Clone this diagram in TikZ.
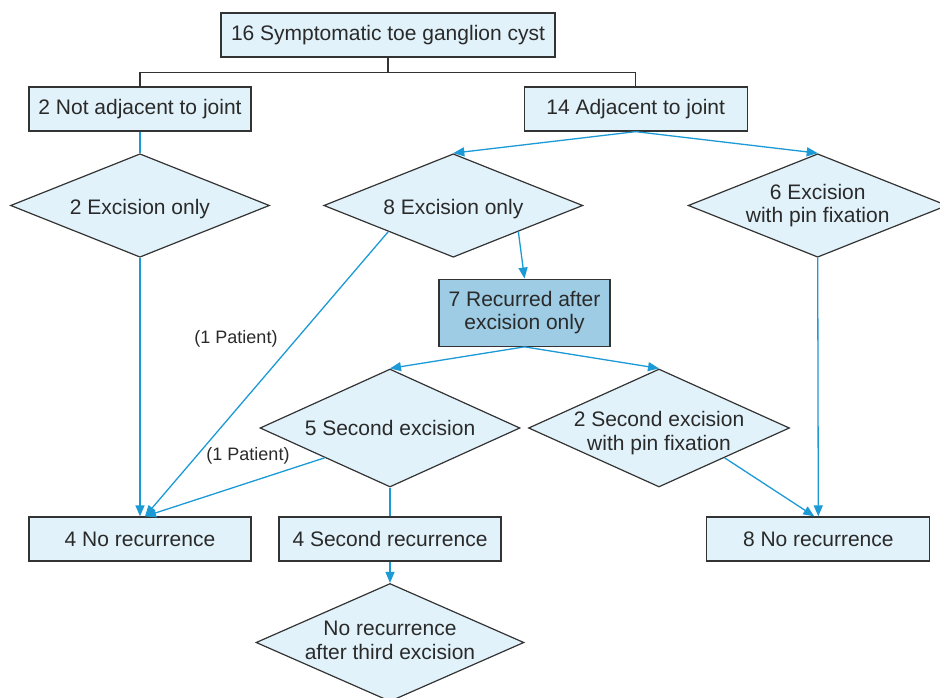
\documentclass[tikz,border=0pt]{standalone}
\usepackage{fontspec}
\setmainfont{Liberation Sans}
\usetikzlibrary{shapes.geometric,arrows.meta,calc}
\definecolor{boxfill}{HTML}{E1F2FA}
\definecolor{darkfill}{HTML}{9DCCE4}
\definecolor{flowblue}{HTML}{1B9AD6}
\definecolor{edge}{HTML}{333333}
\definecolor{txt}{HTML}{2A2A2A}
\begin{document}
\begin{tikzpicture}[x=1pt,y=-1pt,
  every node/.style={text=txt},
  bfont/.style={font=\fontsize{21}{23.5}\selectfont},
  boxnode/.style={draw=edge,line width=1.3pt,fill=boxfill,rectangle,inner sep=0pt,bfont,align=center},
  dnode/.style={draw=edge,line width=1.2pt,fill=boxfill,diamond,inner sep=0pt,minimum width=259pt},
  dtext/.style 2 args={label={[bfont,align=center,text=txt,yshift=#2]center:#1}},
  treeline/.style={draw=edge,line width=1.2pt},
  flow/.style={draw=flowblue,line width=1.3pt},
  flowarrow/.style={flow,-{Triangle[length=11pt,width=9pt]}},
  note/.style={font=\fontsize{18}{20}\selectfont}
]
\useasboundingbox (0,0) rectangle (940,698);
\clip (0,0) rectangle (940,698);

% boxes
\node[boxnode,minimum width=334pt,minimum height=44pt] (top) at (388,35) {16 Symptomatic toe ganglion cyst};
\node[boxnode,minimum width=222pt,minimum height=44pt] (notadj) at (140,109) {2 Not adjacent to joint};
\node[boxnode,minimum width=223pt,minimum height=44pt] (adj) at (635.7,109) {14 Adjacent to joint};
\node[boxnode,fill=darkfill,minimum width=171pt,minimum height=67pt] (rec7) at (524.5,312.7) {7 Recurred after\\excision only};
\node[boxnode,minimum width=222pt,minimum height=44pt] (norec4) at (140,539) {4 No recurrence};
\node[boxnode,minimum width=222pt,minimum height=44pt] (rec2nd) at (390,539) {4 Second recurrence};
\node[boxnode,minimum width=223pt,minimum height=44pt] (norec8) at (818.3,539) {8 No recurrence};

% diamonds
\node[dnode,minimum height=103.5pt,dtext={2 Excision only}{-4pt}] (ex2) at (140,205.5) {};
\node[dnode,minimum height=103.5pt,dtext={8 Excision only}{-4pt}] (ex8) at (453.3,205.5) {};
\node[dnode,minimum height=103.5pt,dtext={6 Excision\\with pin fixation}{0pt}] (ex6) at (817.7,205.5) {};
\node[dnode,minimum height=118pt,minimum width=260pt,dtext={5 Second excision}{0pt}] (sec5) at (390,428) {};
\node[dnode,minimum height=118pt,minimum width=261pt,dtext={2 Second excision\\with pin fixation}{-5pt}] (pin2) at (659,428) {};
\node[dnode,minimum height=118pt,minimum width=268pt,dtext={No recurrence\\after third excision}{2pt}] (third) at (390,642.5) {};

% tree connectors
\draw[treeline] (top.south) -- ++(0,15) coordinate (tj) -| (notadj.north);
\draw[treeline] (tj) -| (adj.north);

% flow connectors
\draw[flow] (notadj.south) -- (ex2.north);
\draw[flowarrow] (adj.south) -- (ex8.north);
\draw[flowarrow] (adj.south) -- (ex6.north);
\draw[flowarrow] (ex2.south) -- (norec4.north);
\draw[flowarrow] ($(ex8.west)!0.5!(ex8.south)$) -- ([xshift=5pt]norec4.north);
\draw[flowarrow] ($(ex8.east)!0.5!(ex8.south)$) -- (rec7.north);
\draw[flowarrow] (rec7.south) -- (sec5.north);
\draw[flowarrow] (rec7.south) -- (pin2.north);
\draw[flowarrow] ($(sec5.west)!0.5!(sec5.south)$) -- ([xshift=5pt]norec4.north);
\draw[flow] (sec5.south) -- (rec2nd.north);
\draw[flowarrow] (rec2nd.south) -- (third.north);
\draw[flowarrow] (ex6.south) -- (norec8.north);
\draw[flowarrow] ($(pin2.east)!0.5!(pin2.south)$) -- ([xshift=-4pt]norec8.north);

% notes
\node[note] (p1) at (236,339) {(1 Patient)};
\node[note] (p2) at (248,456) {(1 Patient)};
\end{tikzpicture}
\end{document}
